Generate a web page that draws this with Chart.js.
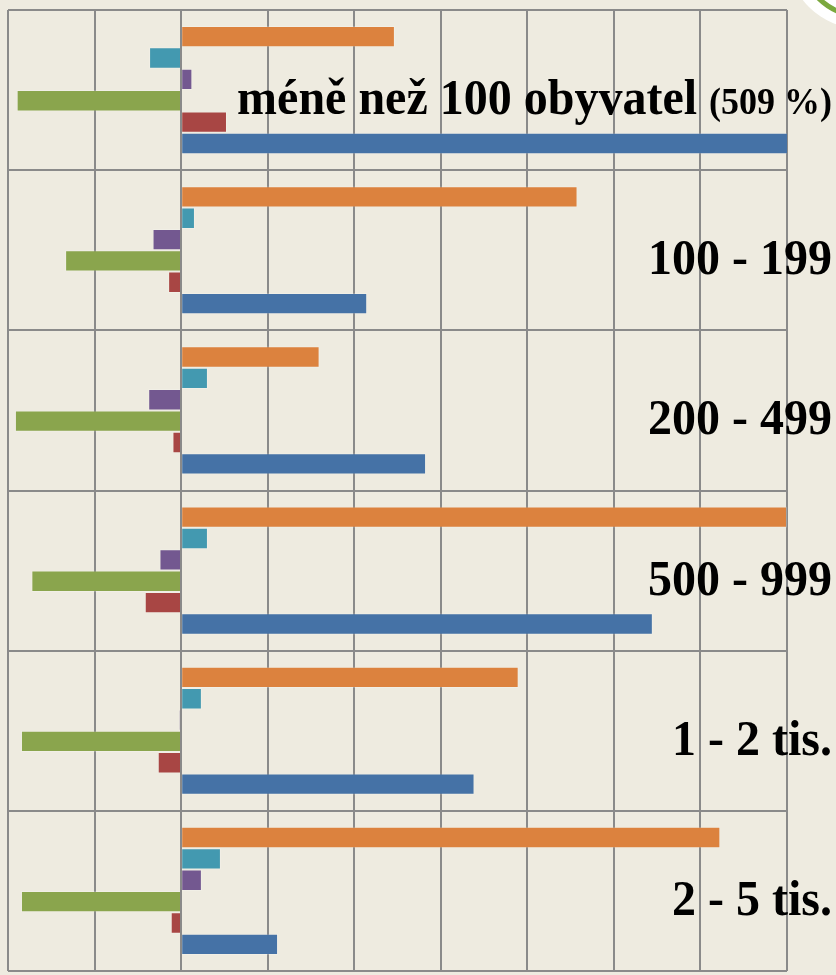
<!DOCTYPE html>
<html>
<head>
<meta charset="utf-8">
<script src="https://cdn.jsdelivr.net/npm/chart.js@4"></script>
<style>
  html, body { margin: 0; padding: 0; background: #EEEBE0; }
  canvas { display: block; }
</style>
</head>
<body>
<canvas id="c" width="836" height="975"></canvas>
<script>
// ---- data (values in %, axis shown from -20 to 70) ----
const categories = ['méně než 100 obyvatel', '100 - 199', '200 - 499', '500 - 999', '1 - 2 tis.', '2 - 5 tis.'];
const categoryNotes = ['(509 %)', '', '', '', '', ''];
const seriesOrange = [24.7, 45.8, 16.0, 70.0, 39.0, 62.3];
const seriesTeal   = [-3.7, 1.6, 3.1, 3.1, 2.4, 4.6];
const seriesPurple = [1.3, -3.3, -3.8, -2.5, -0.2, 2.4];
const seriesGreen  = [-19.0, -13.4, -19.2, -17.3, -18.5, -18.5];
const seriesRed    = [5.3, -1.5, -1.0, -4.2, -2.7, -1.2];
const seriesBlue   = [509, 21.5, 28.3, 54.5, 33.9, 11.2];
const axisMin = -20, axisMax = 70, axisStep = 10;

const BG = '#EEEBE0';
const GRID = '#8A8A8A';

const bgPlugin = {
  id: 'bg',
  beforeDraw(chart) {
    const ctx = chart.ctx;
    ctx.save();
    ctx.fillStyle = BG;
    ctx.fillRect(0, 0, chart.width, chart.height);
    ctx.restore();
  }
};

const labelPlugin = {
  id: 'catLabels',
  afterDraw(chart) {
    const ctx = chart.ctx;
    const y = chart.scales.y;
    const right = chart.width - 4;
    ctx.save();
    // decorative logo corner
    ctx.beginPath();
    ctx.arc(862, -46, 75, 0, Math.PI * 2);
    ctx.fillStyle = '#FFFFFF';
    ctx.fill();
    ctx.beginPath();
    ctx.arc(862, -46, 62, 0, Math.PI * 2);
    ctx.strokeStyle = '#7BA83E';
    ctx.lineWidth = 5;
    ctx.stroke();

    ctx.fillStyle = '#000000';
    ctx.textAlign = 'right';
    ctx.textBaseline = 'alphabetic';
    const mainFont = 'bold 48px "Liberation Serif", "Times New Roman", serif';
    const noteFont = 'bold 36px "Liberation Serif", "Times New Roman", serif';
    const sy = 1.06;
    categories.forEach((cat, i) => {
      const cy = y.getPixelForValue(i) + 7;
      const base = cy + 17;
      let x = right;
      ctx.save();
      ctx.translate(0, base);
      ctx.scale(1, sy);
      if (categoryNotes[i]) {
        ctx.font = noteFont;
        ctx.fillText(categoryNotes[i], x, 0);
        x -= ctx.measureText(categoryNotes[i]).width + 12;
      }
      ctx.font = mainFont;
      ctx.fillText(cat, x, 0);
      ctx.restore();
    });
    ctx.restore();
  }
};

const mk = (data, color) => ({
  data,
  backgroundColor: color,
  borderColor: 'rgba(255,255,255,0.2)',
  borderWidth: 1,
  categoryPercentage: 0.8,
  barPercentage: 1.0
});

new Chart(document.getElementById('c'), {
  type: 'bar',
  data: {
    labels: categories,
    datasets: [
      mk(seriesOrange, '#DC823E'),
      mk(seriesTeal,   '#4399B0'),
      mk(seriesPurple, '#735890'),
      mk(seriesGreen,  '#8AA54D'),
      mk(seriesRed,    '#A84644'),
      mk(seriesBlue,   '#4572A6')
    ]
  },
  options: {
    indexAxis: 'y',
    responsive: false,
    animation: false,
    layout: { padding: { left: 8, right: 49, top: 10, bottom: 4 } },
    plugins: { legend: { display: false }, tooltip: { enabled: false } },
    scales: {
      x: {
        min: axisMin, max: axisMax,
        z: 1,
        ticks: { display: false, stepSize: axisStep },
        grid: { color: GRID, lineWidth: 2, drawTicks: false },
        border: { display: false }
      },
      y: {
        z: 1,
        ticks: { display: false },
        grid: { color: GRID, lineWidth: 2, drawTicks: false, offset: true },
        border: { display: false }
      }
    }
  },
  plugins: [bgPlugin, labelPlugin]
});
</script>
</body>
</html>
